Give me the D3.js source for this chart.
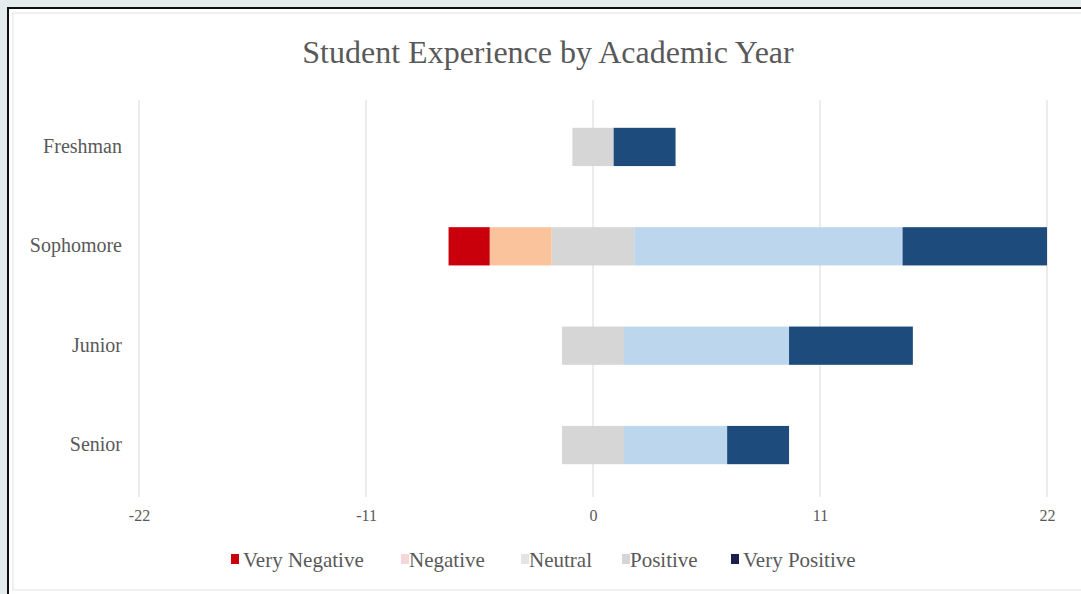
<!DOCTYPE html>
<html>
<head>
<meta charset="utf-8">
<script src="https://cdn.jsdelivr.net/npm/d3@7"></script>
<style>
  html, body { margin: 0; padding: 0; background: #e4ecee; }
  #plot { position: absolute; left: 0; top: 0; }
</style>
</head>
<body>
<div id="plot"></div>
<script>
// Chart data
const years = ["Freshman", "Sophomore", "Junior", "Senior"];
const levels = ["Very Negative", "Negative", "Neutral", "Positive", "Very Positive"];
const veryNegative = [0, 2, 0, 0];
const negative = [0, 3, 0, 0];
const neutral = [2, 4, 3, 3];
const positive = [0, 13, 8, 5];
const veryPositive = [3, 7, 6, 3];
const tickValues = [-22, -11, 0, 11, 22];
const colors = ["#c9000c", "#fbc39c", "#d6d6d6", "#bcd6ee", "#1d4c7c"];
const legendColors = ["#c9000c", "#f6d6dc", "#e4e4e4", "#d6d6d6", "#1a1f4e"];

function createPlot() {
    const width = 1081;
    const height = 594;
    const marginTop = 98;
    const marginBottom = 100;

    const svg = d3.select("#plot")
        .append("svg")
        .attr("width", width)
        .attr("height", height)
        .style("font-family", "'Liberation Serif', 'Times New Roman', serif");

    // Frame
    svg.append("rect")
        .attr("x", 8).attr("y", 8)
        .attr("width", width).attr("height", 600)
        .attr("fill", "#ffffff")
        .attr("stroke", "#111")
        .attr("stroke-width", 2);
    svg.append("rect")
        .attr("x", 13).attr("y", 13)
        .attr("width", width).attr("height", 577)
        .attr("fill", "none")
        .attr("stroke", "#ebebeb")
        .attr("stroke-width", 1.5);

    const x = d3.scaleLinear()
        .domain([-22, 22])
        .range([139, 1047]);

    const y = d3.scaleBand()
        .domain(years)
        .range([marginTop, height - marginBottom])
        .paddingInner(0.615)
        .paddingOuter(0.3);

    // Title
    svg.append("text")
        .attr("x", 548)
        .attr("y", 63)
        .attr("text-anchor", "middle")
        .attr("fill", "#595959")
        .style("font-size", "32px")
        .text("Student Experience by Academic Year");

    // Gridlines
    svg.append("g")
        .selectAll("line")
        .data(tickValues)
        .join("line")
        .attr("x1", d => x(d)).attr("x2", d => x(d))
        .attr("y1", 100).attr("y2", 497)
        .attr("stroke", "#d9d9d9")
        .attr("stroke-width", 1);

    // Stacked, diverging around neutral midpoint
    const series = [veryNegative, negative, neutral, positive, veryPositive];
    const segs = [];
    years.forEach((yr, i) => {
        let start = -(veryNegative[i] + negative[i] + neutral[i] / 2);
        series.forEach((s, k) => {
            if (s[i] > 0) segs.push({ yr, k, x0: start, x1: start + s[i] });
            start += s[i];
        });
    });

    svg.append("g")
        .selectAll("rect")
        .data(segs)
        .join("rect")
        .attr("x", d => x(d.x0))
        .attr("width", d => x(d.x1) - x(d.x0))
        .attr("y", d => y(d.yr))
        .attr("height", y.bandwidth())
        .attr("fill", d => colors[d.k]);

    // Axis labels
    const xAxis = svg.append("g")
        .attr("transform", "translate(0,507)")
        .call(d3.axisBottom(x).tickValues(tickValues).tickSize(0).tickFormat(d => String(d)))
        .call(g => g.select(".domain").remove());
    xAxis.selectAll("text")
        .attr("fill", "#595959")
        .style("font-size", "16px")
        .style("font-family", "'Liberation Serif', serif");

    svg.append("g")
        .selectAll("text")
        .data(years)
        .join("text")
        .attr("x", 122)
        .attr("y", d => y(d) + y.bandwidth() / 2 + 6)
        .attr("text-anchor", "end")
        .attr("fill", "#595959")
        .style("font-size", "20px")
        .text(d => d);

    // Legend
    const legendX = [231, 401, 521, 622, 731];
    const legend = svg.append("g")
        .selectAll("g")
        .data(levels)
        .join("g")
        .attr("transform", (d, i) => `translate(${legendX[i]},560)`);
    legend.append("rect")
        .attr("x", 0).attr("y", -6)
        .attr("width", 8).attr("height", 10)
        .attr("fill", (d, i) => legendColors[i]);
    legend.append("text")
        .attr("x", (d, i) => i === 0 || i === 4 ? 12 : 8)
        .attr("y", 7)
        .attr("fill", "#595959")
        .style("font-size", "21px")
        .text(d => d);
}

createPlot();
</script>
</body>
</html>
